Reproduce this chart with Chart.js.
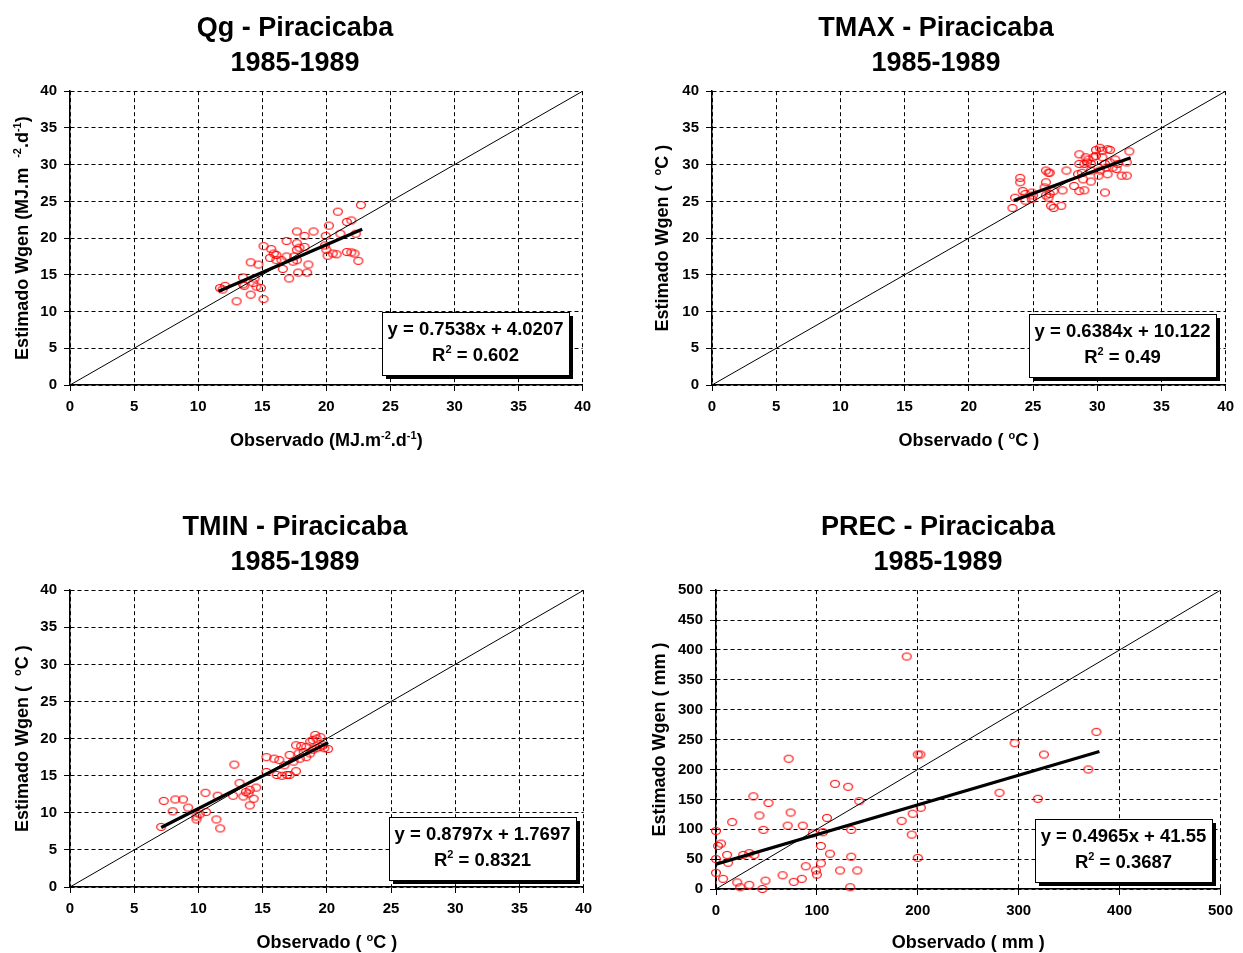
<!DOCTYPE html>
<html lang="pt">
<head>
<meta charset="UTF-8">
<title>Wgen x Observado - Piracicaba 1985-1989</title>
<style>
body { margin: 0; background: #fff; width: 1243px; height: 953px; position: relative; overflow: hidden; }
canvas { position: absolute; }
</style>
</head>
<body>
<canvas id="qg" width="606" height="470" style="left:-8px;top:0;width:606px;height:470px"></canvas>
<canvas id="tmax" width="610" height="470" style="left:631px;top:0;width:610px;height:470px"></canvas>
<canvas id="tmin" width="608" height="473" style="left:-9px;top:499px;width:608px;height:473px"></canvas>
<canvas id="prec" width="604" height="475" style="left:636px;top:499px;width:604px;height:475px"></canvas>

<script src="https://cdn.jsdelivr.net/npm/chart.js"></script>
<script>
const FONT = "'Liberation Sans', Arial, sans-serif";

// --- Qg (radiação) ---
const qgTitle = ['Qg - Piracicaba', '1985-1989'];
const qgXLabel = ['Observado (MJ.m', '^-2', '.d', '^-1', ')'];
const qgYLabel = ['Estimado Wgen (MJ.m  ', '^-2', '.d', '^-1', ')'];
const qgAxis = [0, 40, 5];
const qgFit = [0.7538, 4.0207, 0.602];
const qgRange = [11.6, 22.8];
const qgObs = [22.7, 20.9, 21.6, 21.95, 20.2, 19.0, 17.7, 18.3, 19.95, 21.1, 22.3, 16.9, 15.1, 17.7,
  17.9, 18.3, 17.7, 15.7, 15.9, 16.1, 15.6, 16.1, 16.5, 16.9, 17.5, 17.7, 17.4, 19.9, 20.0, 20.5,
  20.8, 20.1, 21.6, 21.95, 22.2, 22.5, 14.1, 14.7, 16.6, 18.6, 17.8, 18.5, 17.1, 13.5, 13.6, 13.5,
  14.4, 14.3, 14.55, 14.9, 11.7, 11.9, 12.1, 14.1, 13.0, 15.1];
const qgEst = [24.5, 23.6, 22.2, 22.4, 21.7, 20.9, 20.9, 20.3, 20.3, 20.6, 20.6, 19.6, 18.9, 19.3,
  18.7, 18.8, 18.4, 18.5, 17.9, 17.7, 17.3, 17.0, 17.0, 17.5, 17.5, 17.0, 16.8, 19.0, 18.4, 17.9,
  17.8, 17.6, 18.1, 18.05, 17.9, 16.9, 16.7, 16.4, 15.8, 16.4, 15.3, 15.3, 14.5, 14.65, 13.5, 13.7,
  14.5, 13.9, 13.4, 13.2, 13.2, 13.0, 13.5, 12.3, 11.4, 11.7];

// --- TMAX ---
const tmaxTitle = ['TMAX - Piracicaba', '1985-1989'];
const tmaxXLabel = ['Observado ( ', '^o', 'C )'];
const tmaxYLabel = ['Estimado Wgen (  ', '^o', 'C )'];
const tmaxAxis = [0, 40, 5];
const tmaxFit = [0.6384, 10.122, 0.49];
const tmaxRange = [23.5, 32.6];
const tmaxObs = [32.5, 32.3, 30.2, 29.9, 30.4, 30.8, 31.0, 28.6, 29.1, 29.3, 29.7, 29.5, 29.0, 28.6,
  29.2, 29.9, 30.4, 30.6, 30.7, 31.4, 31.6, 31.2, 31.0, 31.5, 31.9, 32.3, 29.5, 30.1, 30.2, 30.8,
  28.5, 28.8, 29.5, 28.9, 27.6, 26.0, 26.2, 26.3, 26.0, 28.2, 28.6, 29.0, 30.6, 27.3, 26.6, 25.9,
  26.0, 26.2, 26.3, 24.0, 24.0, 24.2, 24.4, 24.9, 25.0, 23.6, 24.4, 24.9, 23.4, 26.4, 26.6, 27.2];
const tmaxEst = [31.8, 30.3, 32.3, 32.0, 31.9, 32.1, 32.0, 31.4, 31.0, 30.7, 31.0, 30.1, 30.1, 30.1,
  30.3, 31.2, 31.0, 30.1, 29.6, 30.7, 30.1, 29.6, 30.3, 29.4, 28.5, 28.5, 29.2, 28.5, 29.2, 28.7,
  28.7, 28.9, 27.7, 28.0, 29.2, 29.2, 28.9, 28.9, 27.6, 27.1, 26.4, 26.5, 26.2, 26.5, 26.4, 26.9,
  25.8, 25.5, 26.0, 28.2, 27.6, 26.4, 26.0, 26.2, 25.8, 25.5, 25.1, 25.3, 24.1, 24.4, 24.1, 24.4];

// --- TMIN ---
const tminTitle = ['TMIN - Piracicaba', '1985-1989'];
const tminXLabel = ['Observado ( ', '^o', 'C )'];
const tminYLabel = ['Estimado Wgen (  ', '^o', 'C )'];
const tminAxis = [0, 40, 5];
const tminFit = [0.8797, 1.7697, 0.8321];
const tminRange = [7.1, 20.1];
const tminObs = [7.1, 7.3, 8.0, 8.2, 8.8, 9.2, 9.85, 9.85, 10.1, 10.6, 10.55, 11.5, 11.4, 11.7, 12.8,
  12.7, 13.2, 13.5, 13.7, 13.9, 14.0, 14.5, 14.3, 14.0, 15.3, 15.9, 16.3, 15.3, 16.1, 16.5, 16.9,
  17.1, 17.6, 16.7, 17.1, 17.4, 17.8, 17.9, 18.2, 18.4, 18.7, 18.9, 19.2, 19.5, 19.7, 19.8, 20.1,
  18.7, 18.9, 19.2, 19.5, 19.1, 18.0, 18.4, 17.6];
const tminEst = [8.1, 11.6, 10.2, 11.8, 11.8, 10.7, 9.5, 9.1, 9.8, 10.1, 12.7, 12.3, 9.1, 7.9, 16.5,
  12.3, 14.0, 12.2, 12.8, 12.6, 13.1, 13.4, 11.9, 11.0, 17.5, 17.3, 17.1, 15.5, 15.1, 15.0, 15.1,
  15.1, 15.6, 16.4, 17.8, 16.9, 18.0, 17.3, 18.2, 17.5, 18.0, 18.5, 18.7, 18.9, 19.1, 18.7, 18.6,
  19.6, 19.8, 20.0, 20.2, 20.5, 19.0, 18.9, 19.1];

// --- PREC ---
const precTitle = ['PREC - Piracicaba', '1985-1989'];
const precXLabel = ['Observado ( mm )'];
const precYLabel = ['Estimado Wgen ( mm )'];
const precXAxis = [0, 500, 100];
const precYAxis = [0, 500, 50];
const precFit = [0.4965, 41.55, 0.3687];
const precRange = [0, 380];
const precObs = [189, 200, 202.5, 72, 118, 131, 37, 52, 142, 16, 43, 74, 110, 195, 203, 184, 47, 71,
  86, 96, 106, 134, 0, 194, 2, 5, 11, 12, 0, 27, 33, 38, 104, 113, 134, 200, 0, 7, 21, 24, 33, 46,
  49, 66, 77, 85, 89, 99, 100, 104, 123, 133, 140, 296, 325, 377, 369, 281, 319];
const precEst = [389, 225, 225, 218, 176, 171, 155, 144, 147, 112, 123, 128, 119, 126, 136, 114, 99,
  106, 106, 93, 95, 99, 97, 91, 72, 76, 57, 44, 50, 57, 60, 57, 72, 59, 54, 52, 27, 17, 11, 3, 7, 0,
  14, 23, 12, 17, 38, 31, 24, 43, 31, 3, 31, 244, 225, 263, 200, 161, 151];

function ringMarker() {
  const c = document.createElement('canvas');
  c.width = 12; c.height = 10;
  const g = c.getContext('2d');
  g.strokeStyle = '#ff0000';
  g.lineWidth = 1.15;
  g.beginPath();
  g.ellipse(6, 5, 4.4, 3.5, 0, 0, Math.PI * 2);
  g.stroke();
  return c;
}
const marker = ringMarker();

// draws text pieces, '^' prefix = superscript
function rich(ctx, segs, cx, cy, size) {
  const small = Math.round(size * 0.62);
  const parts = segs.map(s => {
    const sup = s[0] === '^';
    const t = sup ? s.slice(1) : s;
    ctx.font = `bold ${sup ? small : size}px ${FONT}`;
    return { t, sup, w: ctx.measureText(t).width };
  });
  const total = parts.reduce((a, p) => a + p.w, 0);
  let x = cx - total / 2;
  const base = cy + size * 0.36;
  ctx.textAlign = 'left';
  ctx.textBaseline = 'alphabetic';
  parts.forEach(p => {
    ctx.font = `bold ${p.sup ? small : size}px ${FONT}`;
    ctx.fillText(p.t, x, p.sup ? base - size * 0.4 : base);
    x += p.w;
  });
  return total;
}

const overlay = {
  id: 'overlay',
  afterDraw(chart, args, o) {
    const { ctx, chartArea: a } = chart;
    ctx.save();
    ctx.fillStyle = '#000';
    rich(ctx, o.xLabel, (a.left + a.right) / 2, a.bottom + o.xGap, 18);

    ctx.save();
    ctx.translate(o.yTitleX, (a.top + a.bottom) / 2);
    ctx.rotate(-Math.PI / 2);
    rich(ctx, o.yLabel, 0, 0, 18);
    ctx.restore();

    // equation box
    const fit = o.fit;
    const l1 = ['y = ' + fit[0] + 'x + ' + fit[1]];
    const l2 = ['R', '^2', ' = ' + fit[2]];
    ctx.font = `bold 18.5px ${FONT}`;
    const bw = Math.round(ctx.measureText(l1[0]).width + 11);
    const bh = 63;
    const bx = Math.round(a.right - o.boxRight - bw);
    const by = Math.round(a.bottom - o.boxBottom - bh);
    ctx.fillStyle = '#000';
    ctx.fillRect(bx + 4, by + 4, bw, bh);
    ctx.fillStyle = '#fff';
    ctx.fillRect(bx, by, bw, bh);
    ctx.strokeStyle = '#000';
    ctx.lineWidth = 1;
    ctx.strokeRect(bx + 0.5, by + 0.5, bw, bh);
    ctx.fillStyle = '#000';
    rich(ctx, l1, bx + bw / 2, by + 16, 18.5);
    rich(ctx, l2, bx + bw / 2, by + 42, 18.5);
    ctx.restore();
  }
};

function axisOpts(range, fixSize) {
  return {
    type: 'linear',
    min: range[0],
    max: range[1],
    ticks: {
      stepSize: range[2],
      color: '#000',
      padding: 7,
      maxRotation: 0,
      font: { family: FONT, size: 15, weight: 'bold' }
    },
    grid: { color: '#000', lineWidth: 1, tickLength: 6, tickColor: '#000' },
    border: { display: true, color: '#000', width: 1.5, dash: [4, 3] },
    afterFit: fixSize
  };
}

function build(id, d, s) {
  const pts = d.obs.map((x, i) => ({ x, y: d.est[i] }));
  const trend = d.range.map(x => ({ x, y: d.fit[0] * x + d.fit[1] }));
  const lim = d.xAxis[1];
  return new Chart(document.getElementById(id), {
    type: 'scatter',
    data: {
      datasets: [
        { data: trend, showLine: true, borderColor: '#000', borderWidth: 3.2, pointRadius: 0 },
        { data: [{ x: 0, y: 0 }, { x: lim, y: lim }], showLine: true, borderColor: '#000', borderWidth: 1, pointRadius: 0 },
        { data: pts, pointStyle: marker, pointRadius: 4, clip: false }
      ]
    },
    options: {
      responsive: false,
      animation: false,
      events: [],
      layout: { padding: 0 },
      plugins: {
        legend: { display: false },
        tooltip: { enabled: false },
        title: {
          display: true,
          text: d.title,
          color: '#000',
          font: { family: FONT, size: 27, weight: 'bold', lineHeight: 1.3 },
          padding: { top: 11, bottom: 10 }
        },
        overlay: { xLabel: d.xLabel, yLabel: d.yLabel, fit: d.fit, yTitleX: s.yTitleX, xGap: s.xGap,
          boxRight: s.boxRight, boxBottom: s.boxBottom }
      },
      scales: {
        x: axisOpts(d.xAxis, sc => { sc.height = 85; }),
        y: axisOpts(d.yAxis, sc => { sc.width = s.yWidth; })
      }
    },
    plugins: [overlay]
  });
}

build('qg', { obs: qgObs, est: qgEst, fit: qgFit, range: qgRange, xAxis: qgAxis, yAxis: qgAxis,
  title: qgTitle, xLabel: qgXLabel, yLabel: qgYLabel }, { yWidth: 78, yTitleX: 30, xGap: 55, boxRight: 14, boxBottom: 10 });
build('tmax', { obs: tmaxObs, est: tmaxEst, fit: tmaxFit, range: tmaxRange, xAxis: tmaxAxis, yAxis: tmaxAxis,
  title: tmaxTitle, xLabel: tmaxXLabel, yLabel: tmaxYLabel }, { yWidth: 81, yTitleX: 31, xGap: 55, boxRight: 10, boxBottom: 8 });
build('tmin', { obs: tminObs, est: tminEst, fit: tminFit, range: tminRange, xAxis: tminAxis, yAxis: tminAxis,
  title: tminTitle, xLabel: tminXLabel, yLabel: tminYLabel }, { yWidth: 79, yTitleX: 31, xGap: 55, boxRight: 8, boxBottom: 7 });
build('prec', { obs: precObs, est: precEst, fit: precFit, range: precRange, xAxis: precXAxis, yAxis: precYAxis,
  title: precTitle, xLabel: precXLabel, yLabel: precYLabel }, { yWidth: 80, yTitleX: 23, xGap: 53, boxRight: 8, boxBottom: 7 });
</script>
</body>
</html>
